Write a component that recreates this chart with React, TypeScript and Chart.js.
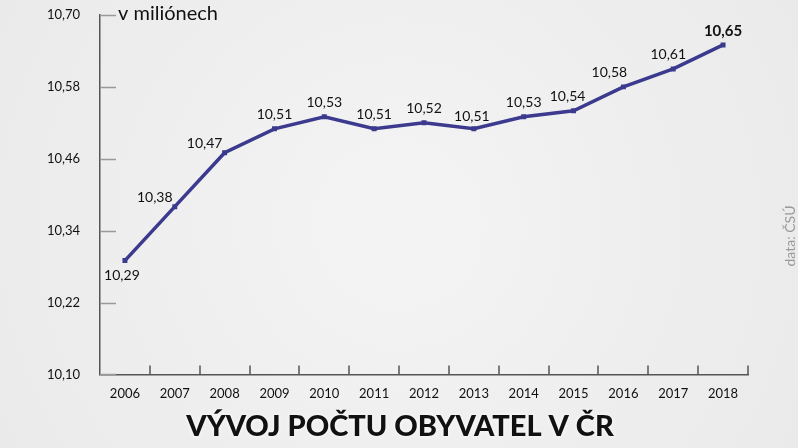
import React, { useEffect, useRef } from "react";
import { Chart, registerables } from "chart.js";

Chart.register(...registerables);

const years = ["2006", "2007", "2008", "2009", "2010", "2011", "2012", "2013", "2014", "2015", "2016", "2017", "2018"];
const population = [10.29, 10.38, 10.47, 10.51, 10.53, 10.51, 10.52, 10.51, 10.53, 10.54, 10.58, 10.61, 10.65];

const LINE = "#3b3a8e";
const FONT = "Lato, 'DejaVu Sans', sans-serif";
const TITLE = "VÝVOJ POČTU OBYVATEL V ČR";

const fmt = (v: number) => v.toFixed(2).replace(".", ",");

// background, inward tick marks, point labels and the texts around
const decor = {
   id: "decor",
   beforeDraw: (chart: any) => {
      const { ctx, width, height } = chart;
      ctx.save();
      const g = ctx.createRadialGradient(width / 2, height / 2, 50, width / 2, height / 2, width / 1.6);
      g.addColorStop(0, "#f3f3f3");
      g.addColorStop(1, "#e9e9e9");
      ctx.fillStyle = g;
      ctx.fillRect(0, 0, width, height);
      ctx.restore();
   },
   afterDatasetsDraw: (chart: any) => {
      const { ctx, chartArea, scales } = chart;
      const x = scales.x;
      const y = scales.y;
      ctx.save();
      // y ticks
      ctx.strokeStyle = "#9a9a9a";
      ctx.lineWidth = 1.5;
      y.ticks.forEach((t: any) => {
         const py = Math.round(y.getPixelForValue(t.value)) + 0.5;
         ctx.beginPath();
         ctx.moveTo(chartArea.left, py);
         ctx.lineTo(chartArea.left + 16, py);
         ctx.stroke();
      });
      // x ticks at category boundaries
      ctx.strokeStyle = "#555";
      for (let i = 1; i <= years.length; i++) {
         const px = Math.round((x.getPixelForValue(i - 1) + x.getPixelForValue(i)) / 2);
         const bx = i === years.length ? chartArea.right : px;
         ctx.beginPath();
         ctx.moveTo(bx, chartArea.bottom);
         ctx.lineTo(bx, chartArea.bottom - 9);
         ctx.stroke();
      }
      // point labels
      const meta = chart.getDatasetMeta(0);
      ctx.fillStyle = "#111";
      ctx.textAlign = "center";
      ctx.textBaseline = "middle";
      meta.data.forEach((pt: any, i: number) => {
         const last = i === population.length - 1;
         ctx.font = last ? `bold 15px ${FONT}` : `14px ${FONT}`;
         let dx = 0;
         let dy = -14;
         if (i === 0) {
            dx = -3;
            dy = 15;
         } else if (i === 1 || i === 2) {
            dx = -20;
            dy = -9;
         } else if (i === 10) {
            dx = -14;
         } else if (i === 11) {
            dx = -5;
         } else if (i === 9) {
            dx = -6;
         } else if (i === 7) {
            dx = -2;
            dy = -12;
         }
         ctx.fillText(fmt(population[i]), pt.x + dx, pt.y + dy);
      });
      // unit
      ctx.font = `20px ${FONT}`;
      ctx.textAlign = "left";
      ctx.fillText("v miliónech", chartArea.left + 18, y.getPixelForValue(10.7) - 1);
      // title
      ctx.font = `900 29px ${FONT}`;
      ctx.textAlign = "center";
      ctx.shadowColor = "rgba(255,255,255,0.9)";
      ctx.shadowBlur = 4;
      ctx.fillText(TITLE, 400, 427);
      ctx.shadowBlur = 0;
      // source
      ctx.translate(790, 236);
      ctx.rotate(-Math.PI / 2);
      ctx.font = `14px ${FONT}`;
      ctx.fillStyle = "#999";
      ctx.fillText("data: ČSÚ", 0, 0);
      ctx.restore();
   },
};

const App = () => {
   const chartRef = useRef<HTMLCanvasElement | null>(null);

   useEffect(() => {
      if (!chartRef.current) return;
      const chart = new Chart(chartRef.current, {
         type: "line",
         data: {
            labels: years,
            datasets: [
               {
                  data: population,
                  borderColor: LINE,
                  backgroundColor: LINE,
                  borderWidth: 3.5,
                  pointStyle: "rect",
                  pointRadius: 3.5,
                  pointBorderWidth: 0,
                  tension: 0,
               },
            ],
         },
         options: {
            animation: false,
            responsive: true,
            maintainAspectRatio: false,
            layout: { padding: { top: 15, right: 50, bottom: 42, left: 0 } },
            plugins: {
               legend: { display: false },
               tooltip: { enabled: false },
            },
            scales: {
               x: {
                  offset: true,
                  grid: { display: false },
                  border: { display: true, color: "#555", width: 1.5 },
                  ticks: { color: "#111", font: { family: FONT, size: 13 }, padding: 4, maxRotation: 0 },
               },
               y: {
                  min: 10.1,
                  max: 10.7,
                  afterFit: (s: any) => {
                     s.width = 100;
                     s.paddingTop = 0;
                  },
                  grid: { display: false },
                  border: { display: true, color: "#555", width: 1.5 },
                  ticks: {
                     stepSize: 0.12,
                     padding: 12,
                     color: "#111",
                     font: { family: FONT, size: 13 },
                     callback: (v: any) => fmt(Number(v)),
                  },
               },
            },
         },
         plugins: [decor],
      });
      return () => {
         chart.destroy();
      };
   }, []);

   return (
      <div style={{ position: "absolute", left: 0, top: 0, width: 798, height: 448 }}>
         <canvas ref={chartRef} />
      </div>
   );
};

export default App;
